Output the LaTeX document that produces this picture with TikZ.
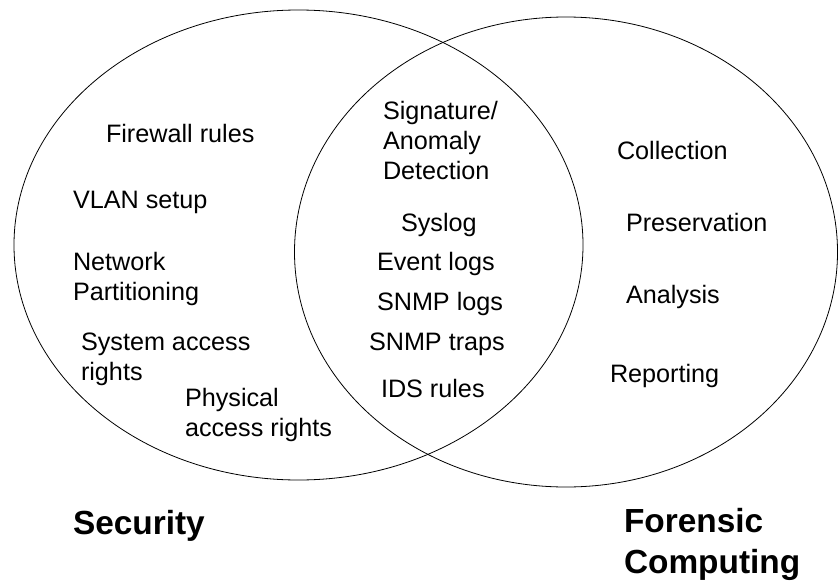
\documentclass[tikz,border=0pt]{standalone}
\usepackage{fontspec}
\setmainfont{Liberation Sans}
\begin{document}
\begin{tikzpicture}[x=1pt,y=-1pt,
  setring/.style={draw=black,line width=0.8pt},
  item/.style={inner sep=0pt,outer sep=0pt,font=\fontsize{25.2}{30}\selectfont,align=left},
  title/.style={inner sep=0pt,outer sep=0pt,font=\fontsize{33.4}{40.5}\selectfont\bfseries,align=left}]
\useasboundingbox (0,0) rectangle (838,581);
% sets
\draw[setring] (298.5,245) ellipse [x radius=284.5, y radius=235];
\draw[setring] (566,252) ellipse [x radius=271.5, y radius=235];
% security only
\node[item,anchor=base west] (fw) at (106,142) {Firewall rules};
\node[item,anchor=base west] (vlan) at (73,208) {VLAN setup};
\node[item,anchor=north west] (netp) at (73,252.5) {Network\\Partitioning};
\node[item,anchor=north west] (sysacc) at (81,333) {System access\\rights};
\node[item,anchor=north west] (phys) at (185,388) {Physical\\access rights};
% overlap
\node[item,anchor=north west] (sig) at (383,101) {Signature/\\Anomaly\\Detection};
\node[item,anchor=base west] (syslog) at (401,231) {Syslog};
\node[item,anchor=base west] (evlog) at (377,270.5) {Event logs};
\node[item,anchor=base west] (snmpl) at (377,310) {SNMP logs};
\node[item,anchor=base west] (snmpt) at (369,350) {SNMP traps};
\node[item,anchor=base west] (ids) at (381,397) {IDS rules};
% forensic only
\node[item,anchor=base west] (coll) at (617,159.5) {Collection};
\node[item,anchor=base west] (pres) at (626,231) {Preservation};
\node[item,anchor=base west] (anal) at (626,303) {Analysis};
\node[item,anchor=base west] (rep) at (610,382) {Reporting};
% titles
\node[title,anchor=base west] (sec) at (73,534.5) {Security};
\node[title,anchor=north west] (for) at (624,508.5) {Forensic\\Computing};
\end{tikzpicture}
\end{document}
